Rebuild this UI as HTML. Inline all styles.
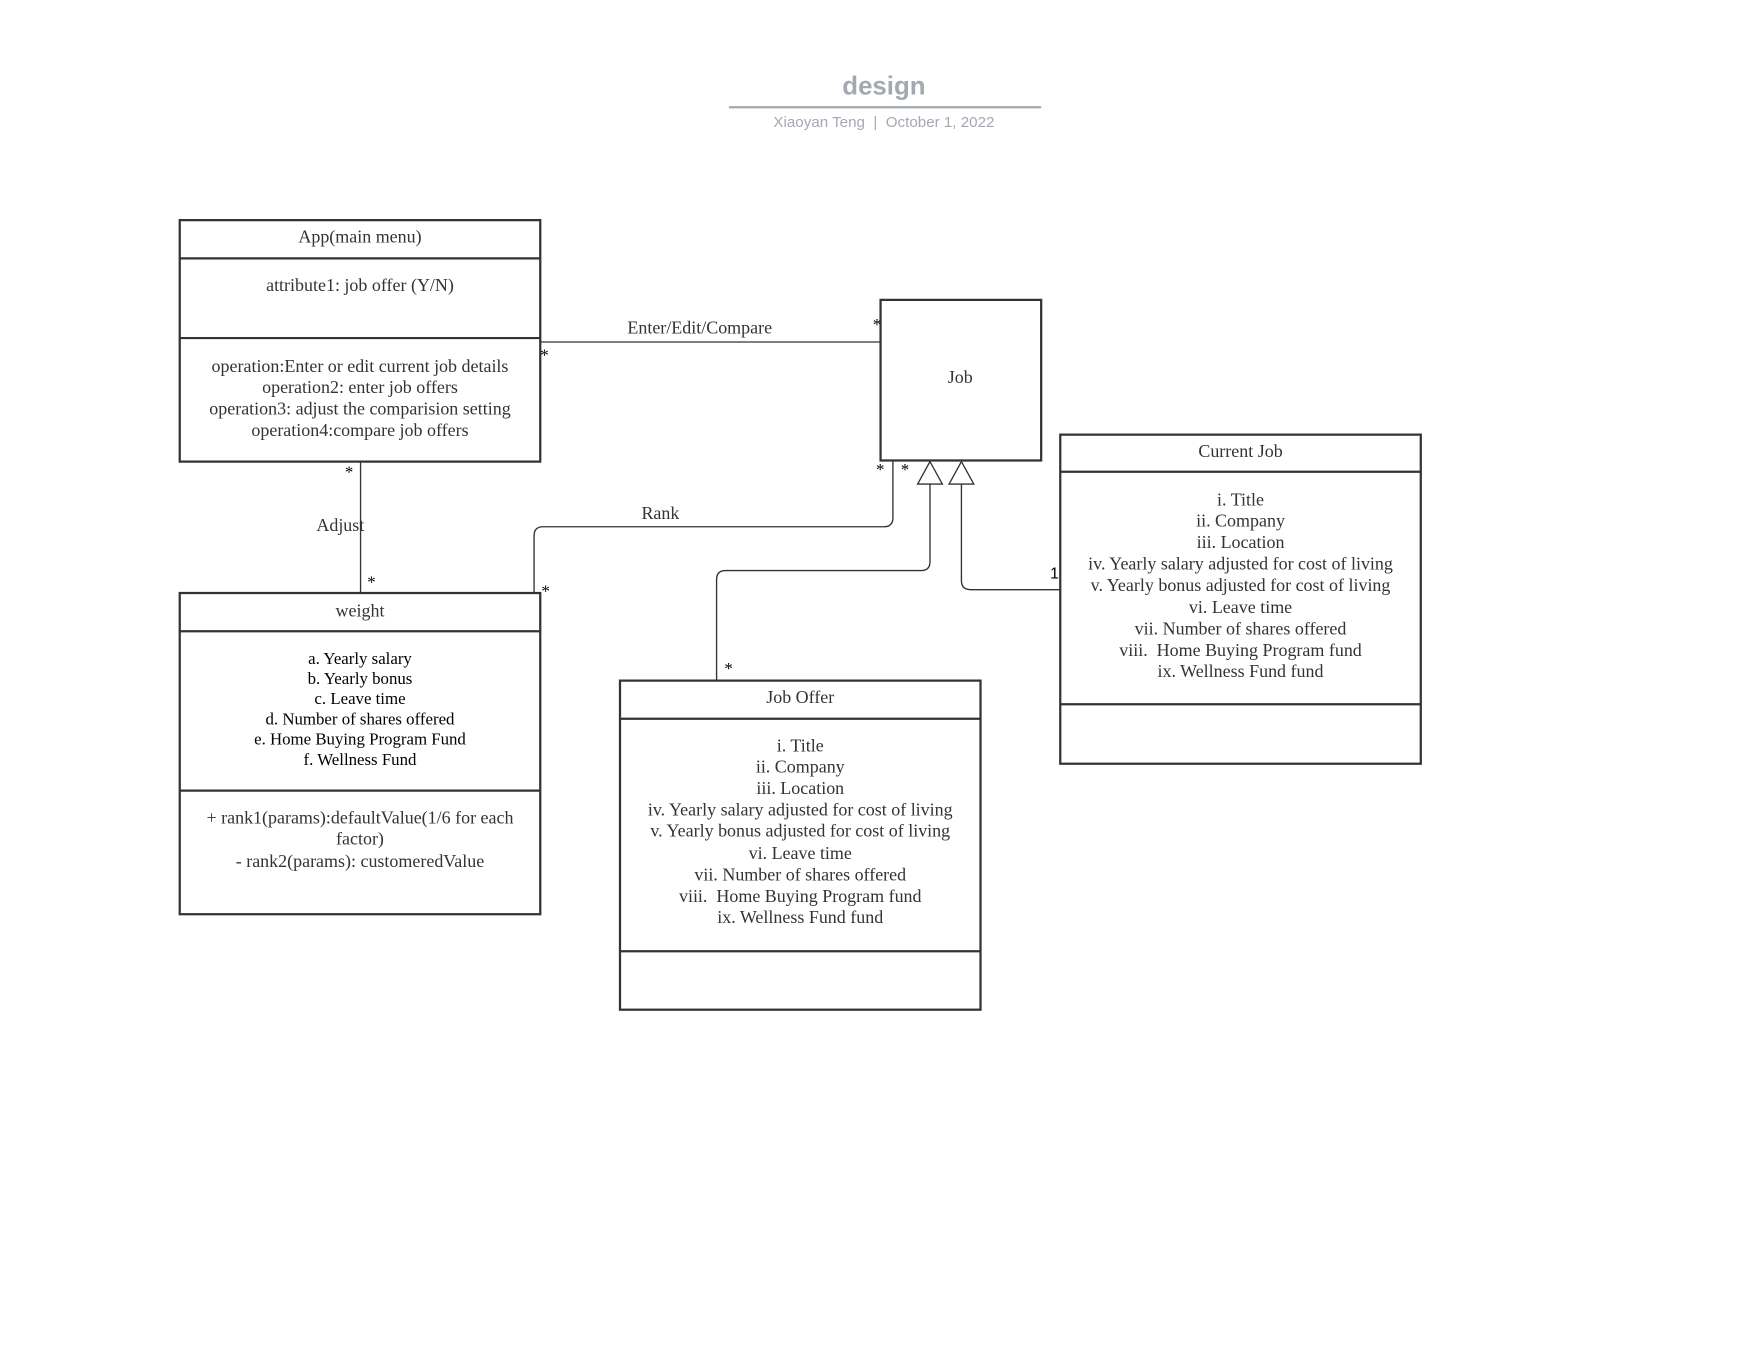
<!DOCTYPE html>
<html><head><meta charset="utf-8"><style>
html,body{margin:0;padding:0;background:#fff;}
svg{display:block;}
.s{font-family:"Liberation Serif",serif;font-size:16px;fill:#333;}
.k{font-family:"Liberation Serif",serif;font-size:15px;fill:#000;}
</style></head><body>
<svg width="1760" height="1360" viewBox="0 0 1567 1210.9" xmlns="http://www.w3.org/2000/svg">
<rect width="1567" height="1211" fill="#fff"/>
<text x="787" y="84" text-anchor="middle" font-family="Liberation Sans,sans-serif" font-weight="bold" font-size="23" fill="#a3a8b1">design</text>
<line x1="649" y1="95.5" x2="927" y2="95.5" stroke="#a3a8b1" stroke-width="2"/>
<text x="787" y="113" text-anchor="middle" font-family="Liberation Sans,sans-serif" font-size="13.5" fill="#a3a8b1" xml:space="preserve">Xiaoyan Teng  |  October 1, 2022</text>

<g fill="none" stroke="#333" stroke-width="2">
<rect x="160" y="196" width="321" height="215"/><line x1="160" y1="230" x2="481" y2="230"/><line x1="160" y1="301" x2="481" y2="301"/>
<rect x="784" y="267" width="143" height="143"/>
<rect x="944" y="387" width="321" height="293"/><line x1="944" y1="420" x2="1265" y2="420"/><line x1="944" y1="627" x2="1265" y2="627"/>
<rect x="160" y="528" width="321" height="286"/><line x1="160" y1="562" x2="481" y2="562"/><line x1="160" y1="704" x2="481" y2="704"/>
<rect x="552" y="606" width="321" height="293"/><line x1="552" y1="640" x2="873" y2="640"/><line x1="552" y1="847" x2="873" y2="847"/>
</g>
<g fill="none" stroke="#333" stroke-width="1.2">
<line x1="481" y1="304.5" x2="784" y2="304.5"/>
<line x1="321" y1="411" x2="321" y2="528"/>
<path d="M475.5 528 V477 Q475.5 469 483.5 469 H787 Q795 469 795 461 V410"/>
<path d="M638 606 V516 Q638 508 646 508 H820 Q828 508 828 500 V431"/>
<path d="M944 525 H864 Q856 525 856 517 V431"/>
<polygon points="828,411 817,431 839,431" fill="#fff"/>
<polygon points="856,411 845,431 867,431" fill="#fff"/>
</g>
<g class="k" font-size="15">
<text x="481" y="321">*</text><text x="777" y="294">*</text>
<text x="307" y="425">*</text><text x="327" y="523">*</text>
<text x="482" y="531">*</text><text x="780" y="423">*</text>
<text x="645" y="600">*</text><text x="802" y="423">*</text>
</g>
<text x="935" y="515" font-family="Liberation Sans,sans-serif" font-size="14" fill="#000">1</text>

<g class="s" text-anchor="middle">
<text x="623" y="297">Enter/Edit/Compare</text>
<text x="588" y="462">Rank</text>
<text x="303" y="473">Adjust</text>
<text x="855" y="341">Job</text>
<text x="320.5" y="216">App(main menu)</text>
<text x="320.5" y="259">attribute1: job offer (Y/N)</text>
<text x="320.5" y="331">operation:Enter or edit current job details</text>
<text x="320.5" y="350">operation2: enter job offers</text>
<text x="320.5" y="369">operation3: adjust the comparision setting</text>
<text x="320.5" y="388">operation4:compare job offers</text>
<text x="320.5" y="549">weight</text>
<text x="320.5" y="733">+ rank1(params):defaultValue(1/6 for each</text>
<text x="320.5" y="752">factor)</text>
<text x="320.5" y="772">- rank2(params): customeredValue</text>
<text x="1104.5" y="407">Current Job</text>
<text x="712.5" y="626">Job Offer</text>
</g>
<g class="k" text-anchor="middle">
<text x="320.5" y="591">a. Yearly salary</text>
<text x="320.5" y="609">b. Yearly bonus</text>
<text x="320.5" y="627">c. Leave time</text>
<text x="320.5" y="645">d. Number of shares offered</text>
<text x="320.5" y="663">e. Home Buying Program Fund</text>
<text x="320.5" y="681">f. Wellness Fund</text>
</g>
<g class="s" text-anchor="middle">
<text x="1104.5" y="450">i. Title</text>
<text x="1104.5" y="469">ii. Company</text>
<text x="1104.5" y="488">iii. Location</text>
<text x="1104.5" y="507">iv. Yearly salary adjusted for cost of living</text>
<text x="1104.5" y="526">v. Yearly bonus adjusted for cost of living</text>
<text x="1104.5" y="546">vi. Leave time</text>
<text x="1104.5" y="565">vii. Number of shares offered</text>
<text x="1104.5" y="584" xml:space="preserve">viii.  Home Buying Program fund</text>
<text x="1104.5" y="603">ix. Wellness Fund fund</text>
<text x="712.5" y="669">i. Title</text>
<text x="712.5" y="688">ii. Company</text>
<text x="712.5" y="707">iii. Location</text>
<text x="712.5" y="726">iv. Yearly salary adjusted for cost of living</text>
<text x="712.5" y="745">v. Yearly bonus adjusted for cost of living</text>
<text x="712.5" y="765">vi. Leave time</text>
<text x="712.5" y="784">vii. Number of shares offered</text>
<text x="712.5" y="803" xml:space="preserve">viii.  Home Buying Program fund</text>
<text x="712.5" y="822">ix. Wellness Fund fund</text>
</g>
</svg>
</body></html>
